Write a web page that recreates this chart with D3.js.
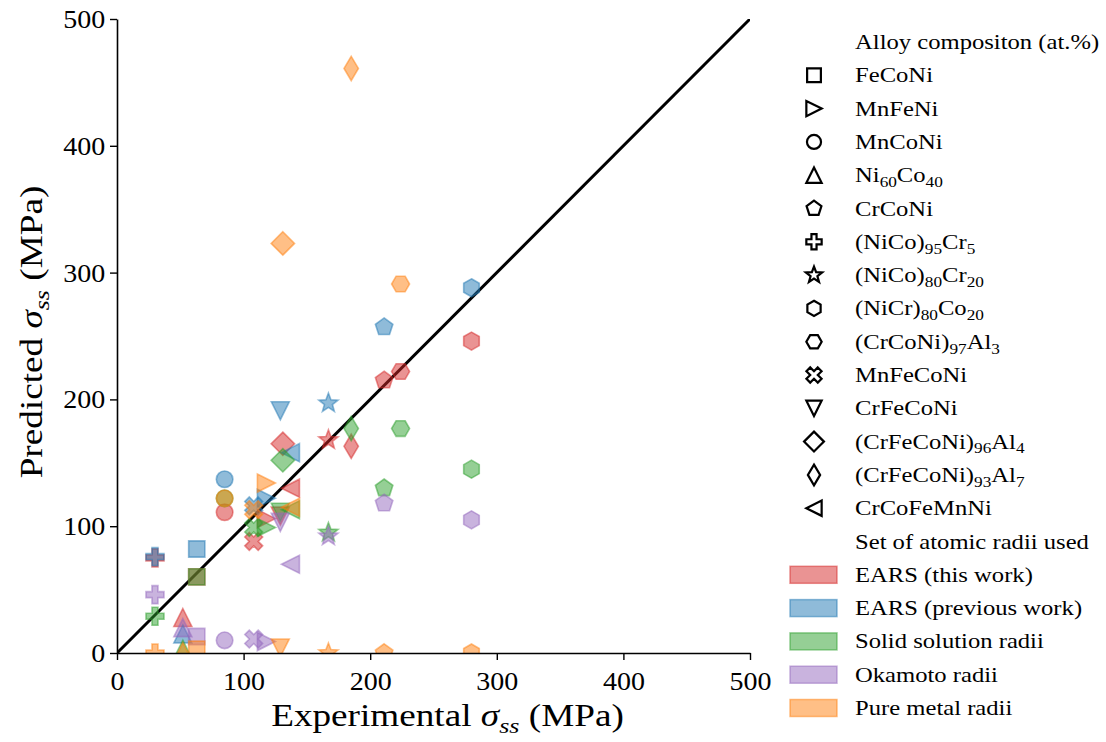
<!DOCTYPE html>
<html><head><meta charset="utf-8">
<script src="https://cdn.jsdelivr.net/npm/d3@7"></script>
<style>
body{margin:0;background:#fff}
svg{display:block}
text{font-family:"Liberation Serif","Times New Roman",serif;fill:#000}
</style>
</head><body>
<svg id="chart" width="1106" height="742"></svg>
<script>
// ---------------- data ----------------
const alloyLabels = ["FeCoNi","MnFeNi","MnCoNi","Ni_{60}Co_{40}","CrCoNi","(NiCo)_{95}Cr_{5}","(NiCo)_{80}Cr_{20}","(NiCr)_{80}Co_{20}","(CrCoNi)_{97}Al_{3}","MnFeCoNi","CrFeCoNi","(CrFeCoNi)_{96}Al_{4}","(CrFeCoNi)_{93}Al_{7}","CrCoFeMnNi"];
const alloyMarkers = ["square","triRight","circle","triUp","pentagon","plus","star","hexPointy","hexFlat","xFilled","triDown","diamond","thinDiamond","triLeft"];
const experimental = [63,118,85,52,211,30,167,280,224,108,129,131,185,137];

const radiiSets = ["EARS (this work)","EARS (previous work)","Solid solution radii","Okamoto radii","Pure metal radii"];
const radiiColors = ["#d62728","#1f77b4","#2ca02c","#9467bd","#ff7f0e"];

const predEARSThis   = [60,106,111,28,215,75,168,246,222,88,108,165,163,130];
const predEARSPrev   = [82,122,137,15,257,76,197,288,null,116,191,null,null,158];
const predSolidSol   = [60,99,122,3,130,29,95,145,177,99,111,152,177,113];
const predOkamoto    = [13,9,10,20,118,46,92,105,null,11,103,null,null,70];
const predPureMetal  = [3,134,122,1,0,0,0,0,291,113,4,323,461,115];
const predictedSeries = [predEARSThis,predEARSPrev,predSolidSol,predOkamoto,predPureMetal];

const xTicks = [0,100,200,300,400,500];
const yTicks = [0,100,200,300,400,500];
const identityLine = [0,500];

// ---------------- layout ----------------
const svg = d3.select("#chart");
const L=117, R=750, T=19, B=653;
const SX = 1.12; // horizontal text stretch
const x = d3.scaleLinear().domain([0,500]).range([L,R]);
const y = d3.scaleLinear().domain([0,500]).range([B,T]);

// marker shapes (centered, r = half-extent)
function poly(ctx, pts){ ctx.moveTo(pts[0][0],pts[0][1]); for(let i=1;i<pts.length;i++) ctx.lineTo(pts[i][0],pts[i][1]); ctx.closePath(); }
function regular(n, r, rot){ const p=[]; for(let i=0;i<n;i++){const a=rot+i*2*Math.PI/n; p.push([r*Math.sin(a),-r*Math.cos(a)]);} return p; }
const shapes = {
  square:{draw(c,r){const a=r*0.9; poly(c,[[-a,-a],[a,-a],[a,a],[-a,a]]);}},
  circle:{draw(c,r){c.moveTo(r*0.92,0); c.arc(0,0,r*0.92,0,2*Math.PI);}},
  triUp:{draw(c,r){poly(c,[[0,-r],[r,r],[-r,r]]);}},
  triDown:{draw(c,r){poly(c,[[0,r],[r,-r],[-r,-r]]);}},
  triLeft:{draw(c,r){poly(c,[[-r,0],[r,-r],[r,r]]);}},
  triRight:{draw(c,r){poly(c,[[r,0],[-r,-r],[-r,r]]);}},
  pentagon:{draw(c,r){poly(c,regular(5,r*1.02,0));}},
  hexPointy:{draw(c,r){poly(c,regular(6,r,0));}},
  hexFlat:{draw(c,r){poly(c,regular(6,r,Math.PI/6));}},
  star:{draw(c,r){const R1=r*1.12,R2=R1*0.42,p=[];for(let i=0;i<10;i++){const a=i*Math.PI/5;const rr=i%2?R2:R1;p.push([rr*Math.sin(a),-rr*Math.cos(a)]);}poly(c,p);}},
  plus:{draw(c,r){const a=r,b=r/3;poly(c,[[-b,-a],[b,-a],[b,-b],[a,-b],[a,b],[b,b],[b,a],[-b,a],[-b,b],[-a,b],[-a,-b],[-b,-b]]);}},
  xFilled:{draw(c,r){const a=r,b=r/3,pts=[[-b,-a],[b,-a],[b,-b],[a,-b],[a,b],[b,b],[b,a],[-b,a],[-b,b],[-a,b],[-a,-b],[-b,-b]];const k=Math.SQRT1_2;poly(c,pts.map(([u,v])=>[(u-v)*k*1.05,(u+v)*k*1.05]));}},
  diamond:{draw(c,r){const a=r*1.3;poly(c,[[0,-a],[a,0],[0,a],[-a,0]]);}},
  thinDiamond:{draw(c,r){const h=r*1.35,w=r*0.8;poly(c,[[0,-h],[w,0],[0,h],[-w,0]]);}}
};
const MR = 9;
const sym = name => d3.symbol().type(shapes[name]).size(MR)();

// clip
svg.append("defs").append("clipPath").attr("id","plotclip")
  .append("rect").attr("x",L).attr("y",T).attr("width",R-L).attr("height",B-T);

// identity line
svg.append("line")
  .attr("x1",x(identityLine[0])).attr("y1",y(identityLine[0]))
  .attr("x2",x(identityLine[1])).attr("y2",y(identityLine[1]))
  .attr("stroke","#000").attr("stroke-width",3)
  .attr("clip-path","url(#plotclip)");

// points
const gPts = svg.append("g").attr("clip-path","url(#plotclip)");
predictedSeries.forEach((vals,s)=>{
  const pts = vals.map((v,i)=>({v,i})).filter(d=>d.v!==null);
  gPts.append("g").selectAll("path").data(pts).enter().append("path")
    .attr("d",d=>sym(alloyMarkers[d.i]))
    .attr("transform",d=>`translate(${x(experimental[d.i])},${y(d.v)})`)
    .attr("fill",radiiColors[s]).attr("fill-opacity",0.5)
    .attr("stroke",radiiColors[s]).attr("stroke-opacity",0.5).attr("stroke-width",1.6);
});

// axes
const fontTick = 25;
const xa = svg.append("g").attr("transform",`translate(0,${B})`)
  .call(d3.axisBottom(x).tickValues(xTicks).tickSize(7).tickSizeOuter(0).tickPadding(12).tickFormat(d3.format("d")));
const ya = svg.append("g").attr("transform",`translate(${L},0)`)
  .call(d3.axisLeft(y).tickValues(yTicks).tickSize(7).tickSizeOuter(0).tickPadding(3.5).tickFormat(d3.format("d")));
[xa,ya].forEach(g=>{
  g.attr("font-family",null).attr("font-size",fontTick);
  g.select(".domain").attr("stroke","#000").attr("stroke-width",1.6);
  g.selectAll(".tick line").attr("stroke","#000").attr("stroke-width",1.4);
  g.selectAll(".tick text").attr("fill","#000").attr("transform",`scale(${SX},1)`);
});
ya.selectAll(".tick text").attr("dy","0.34em");

// text with subscripts helper
function richText(parent, segs, fs){
  const t = parent.append("text").attr("font-size",fs);
  let sub=false;
  segs.forEach(sg=>{
    const ts = t.append("tspan").text(sg.t);
    if(sg.italic) ts.attr("font-style","italic");
    if(sg.sub && !sub){ ts.attr("dy",fs*0.22).attr("font-size",fs*0.7); sub=true; }
    else if(sg.sub && sub){ ts.attr("font-size",fs*0.7); }
    else if(!sg.sub && sub){ ts.attr("dy",-fs*0.22); sub=false; }
  });
  return t;
}
function parseLabel(s){
  const segs=[]; const re=/_\{([^}]*)\}/g; let last=0,m;
  while((m=re.exec(s))){ if(m.index>last) segs.push({t:s.slice(last,m.index)}); segs.push({t:m[1],sub:true}); last=re.lastIndex; }
  if(last<s.length) segs.push({t:s.slice(last)});
  return segs;
}

// axis titles
const axisFs = 31, AX = 1.2;
const xl = svg.append("g").attr("transform",`translate(${(L+R)/2+14},726) scale(${AX},1)`);
richText(xl,[{t:"Experimental "},{t:"σ",italic:true},{t:"ss",italic:true,sub:true},{t:" (MPa)"}],axisFs).attr("text-anchor","middle");
const yl = svg.append("g").attr("transform",`translate(42,${(T+B)/2-4}) rotate(-90) scale(${AX},1)`);
richText(yl,[{t:"Predicted "},{t:"σ",italic:true},{t:"ss",italic:true,sub:true},{t:" (MPa)"}],axisFs).attr("text-anchor","middle");

// legend
const legFs = 22, rowY0 = 42, rowH = 33.3, mX = 814, tX = 855;
const leg = svg.append("g");
const rowY = i => rowY0 + i*rowH;
function legText(i, segs){
  const g = leg.append("g").attr("transform",`translate(${tX},${rowY(i)+7}) scale(${SX},1)`);
  richText(g, segs, legFs);
}
legText(0,[{t:"Alloy compositon (at.%)"}]);
alloyLabels.forEach((lab,k)=>{
  const i=k+1;
  leg.append("path").attr("d",sym(alloyMarkers[k]))
    .attr("transform",`translate(${mX},${rowY(i)}) scale(0.85)`)
    .attr("fill","none").attr("stroke","#000").attr("stroke-width",2.6);
  legText(i, parseLabel(lab));
});
legText(15,[{t:"Set of atomic radii used"}]);
radiiSets.forEach((lab,k)=>{
  const i=k+16;
  leg.append("rect").attr("x",790).attr("y",rowY(i)-8.5).attr("width",47).attr("height",17)
    .attr("fill",radiiColors[k]).attr("fill-opacity",0.5)
    .attr("stroke",radiiColors[k]).attr("stroke-opacity",0.5).attr("stroke-width",1.5);
  legText(i,[{t:lab}]);
});
</script>
</body></html>
